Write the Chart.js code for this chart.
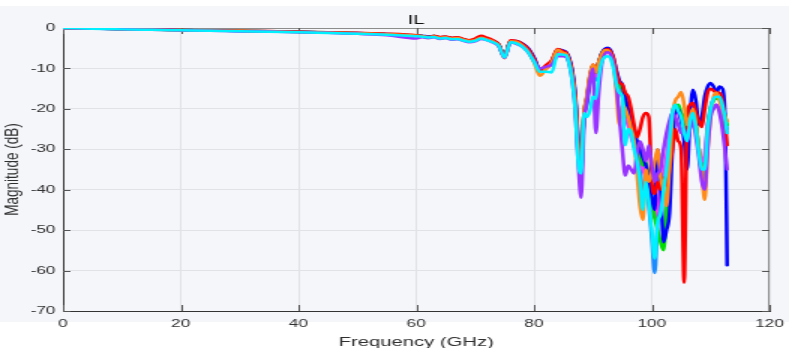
<!DOCTYPE html>
<html>
<head>
<meta charset="utf-8">
<script src="https://cdn.jsdelivr.net/npm/chart.js@4.4.1/dist/chart.umd.min.js"></script>
<style>
html,body{margin:0;padding:0;background:#ffffff;overflow:hidden;width:789px;height:348px;}
#wrap{position:absolute;left:0;top:0;width:526px;height:350px;transform:scaleX(1.5);transform-origin:0 0;}
canvas{display:block;}
</style>
</head>
<body>
<div id="wrap"><canvas id="c" width="526" height="350"></canvas></div>
<script>
// ---- data (frequency in GHz, insertion loss in dB) ----
const freqGHz = [0,5,10,15,20,25,30,35,40,45,50,55,60,
61,62,63,64,65,66,67,68,69,70,71,72,73,74,75,76,77,78,79,80,81,82,83,84,85,
85.5,86,86.5,87,87.5,88,88.5,89,89.5,90,90.5,91,91.5,92,92.5,93,93.5,94,94.5,95,95.5,96,96.5,97,97.5,98,98.5,99,99.5,100,
100.5,101,101.5,102,102.5,103,103.5,104,104.5,105,105.5,106,106.5,107,107.5,108,108.5,109,109.5,110,110.5,111,111.5,112,112.5,112.8];

const xTicks = [0,20,40,60,80,100,120];
const yTicks = [0,-10,-20,-30,-40,-50,-60,-70];

const ilRed = [0,-0.1,-0.25,-0.4,-0.5,-0.6,-0.7,-0.75,-0.9,-1.05,-1.2,-1.4,-1.8,
-2.0,-2.5,-1.9,-2.2,-2.1,-2.4,-2.3,-2.7,-3.0,-2.6,-1.9,-2.4,-3.0,-4.0,-7.0,-3.0,-3.2,-3.9,-5.2,-7.5,-10.5,-9.2,-8.0,-5.2,-5.8,
-6.2,-7.8,-11,-17,-28,-33,-21,-17,-12,-9,-11,-8.5,-6.5,-5.5,-5.2,-5.8,-7.5,-11,-13.5,-14,-16,-17,-20,-24,-27,-25,-22,-21,-22,-38,
-41,-38,-40,-37,-39,-35,-30,-25,-28,-30,-63,-22,-19,-18.5,-21,-23,-24.5,-20,-16,-15,-15.5,-16,-16,-18,-24,-29];

const ilBlue = [0,-0.12,-0.28,-0.38,-0.5,-0.58,-0.72,-0.82,-0.95,-1.1,-1.25,-1.5,-1.85,
-1.9,-2.1,-2.0,-2.3,-2.2,-2.5,-2.4,-2.8,-3.1,-2.9,-2.3,-2.7,-3.1,-4.1,-7.1,-3.2,-3.2,-3.8,-5.0,-7.2,-10.2,-9.5,-8.2,-5.3,-5.6,
-6,-7.5,-10.5,-16,-27,-32,-22,-17.5,-12.5,-9.5,-11,-8.5,-6.2,-5.2,-4.9,-5.5,-7.5,-10.5,-13,-14,-17,-20,-23,-25,-28,-30,-32,-34,-38,-42,
-45,-30,-38,-53,-50,-46,-30,-21,-20,-23,-28,-35,-22,-15.3,-18,-24,-22,-17,-14.5,-13.6,-14.5,-16,-14.5,-15,-25,-58.7];

const ilOrange = [0,-0.15,-0.3,-0.42,-0.52,-0.62,-0.7,-0.82,-0.98,-1.12,-1.3,-1.55,-1.9,
-2.0,-2.2,-2.1,-2.4,-2.3,-2.6,-2.5,-2.9,-3.2,-3.0,-2.4,-2.8,-3.3,-4.3,-7.5,-3.3,-3.4,-4.3,-5.8,-8.5,-11.8,-10.2,-8.6,-5.4,-6.2,
-6.5,-8.5,-12,-18,-30,-34,-21,-16.5,-11.5,-9,-11,-8.5,-6.5,-5.5,-5.5,-6.5,-9,-16,-24,-19,-20,-22,-25,-28,-36,-44,-47.5,-35,-38,-36,
-33,-30,-37,-40,-44,-35,-22,-18,-17,-15.8,-19,-24,-22,-20,-24,-30,-36,-42.5,-30,-22,-17,-16,-18,-20,-22,-23];

const ilGreen = [0,-0.14,-0.29,-0.4,-0.5,-0.6,-0.7,-0.8,-0.94,-1.08,-1.28,-1.52,-1.85,
-1.95,-2.15,-2.0,-2.35,-2.25,-2.55,-2.45,-2.85,-3.1,-2.95,-2.35,-2.7,-3.2,-4.1,-7.0,-3.2,-3.3,-4.0,-5.3,-7.6,-10.6,-9.8,-8.4,-5.5,-5.9,
-6.3,-8,-11,-17,-29,-33,-21,-17,-12,-9.2,-11,-8.5,-6.3,-5.4,-5.2,-5.8,-8,-12,-14.5,-15,-18,-22,-24,-26,-29,-31,-34,-33,-38,-42,
-47,-50,-53,-55,-45,-32,-23,-20,-19,-21,-22,-25,-23,-21,-24,-30,-36,-38,-26,-20,-18,-17.5,-17.5,-19,-22,-24];

const ilMagenta = [0,-0.16,-0.31,-0.42,-0.53,-0.63,-0.74,-0.84,-1.0,-1.15,-1.35,-1.6,-2.0,
-2.1,-2.3,-2.1,-2.5,-2.4,-2.7,-2.6,-3.0,-3.3,-3.1,-2.5,-2.9,-3.4,-4.3,-7.3,-3.4,-3.6,-4.3,-5.6,-7.9,-10.9,-10.2,-8.8,-5.9,-6.2,
-6.4,-8,-11.5,-18,-31,-36,-22,-17.5,-12.5,-9.8,-12,-9,-6.8,-5.6,-5.4,-6,-8.5,-13,-16,-17,-20,-24,-27,-29,-31,-32,-35,-37,-40,-44,
-47,-44,-40,-36,-32,-26,-21,-20,-21,-23,-24,-26,-23,-22,-25,-30,-33,-31,-24,-21,-19.5,-19,-20,-22,-24,-26];

const ilPurple = [0,-0.17,-0.33,-0.45,-0.56,-0.66,-0.78,-0.88,-1.05,-1.2,-1.45,-1.8,-2.6,
-2.3,-2.5,-2.3,-2.7,-2.5,-2.9,-2.8,-3.2,-3.5,-3.3,-2.7,-3.0,-3.6,-4.5,-7.4,-3.6,-3.9,-4.6,-6.0,-8.2,-10.0,-9.6,-9.0,-7.0,-7.0,
-7.2,-9,-13,-20,-33,-42,-24,-18,-13,-10,-26,-16,-9,-6.5,-6,-6.5,-9,-14,-22,-30,-36.5,-34,-35,-36,-31,-28,-30,-33,-29,-34,
-38,-36,-35,-30,-26,-23,-21,-22,-24,-26,-25,-28,-25,-23,-27,-32,-38,-40,-30,-22,-20,-19,-21,-25,-31,-35];

const ilCyan = [0,-0.17,-0.34,-0.46,-0.57,-0.68,-0.8,-0.9,-1.05,-1.22,-1.42,-1.68,-2.05,
-2.15,-2.35,-2.2,-2.6,-2.5,-2.8,-2.7,-3.1,-3.4,-3.2,-2.6,-3.0,-3.5,-4.4,-7.3,-3.5,-3.8,-4.6,-6.0,-8.3,-10.8,-10.8,-11.0,-6.5,-6.6,
-6.8,-9,-13,-20,-33,-36,-21,-22,-20.5,-17,-17.5,-12,-8.5,-7.2,-7,-7.5,-10,-14,-16,-17,-29,-25,-26,-30,-33,-38,-45,-38,-43,-50,
-57,-48,-46,-40,-35,-28,-21,-19,-20.5,-22,-26,-28,-23,-21,-25,-31,-35,-35,-25,-20,-17.5,-17,-17,-19,-23,-26];

const ilSky = [0,-0.15,-0.3,-0.41,-0.52,-0.62,-0.72,-0.82,-0.97,-1.12,-1.32,-1.57,-1.92,
-2.0,-2.2,-2.05,-2.45,-2.3,-2.6,-2.5,-2.9,-3.2,-3.0,-2.45,-2.8,-3.3,-4.2,-7.2,-3.3,-3.5,-4.2,-5.5,-7.8,-10.8,-10.0,-8.8,-5.8,-6.1,
-6.5,-8.5,-12,-18.5,-31,-35,-21.5,-19,-14,-11,-13,-9.5,-7,-6,-5.8,-6.3,-8.5,-12.5,-15,-16,-22,-24,-26,-29,-32,-35,-40,-38,-44,-52,
-60.6,-48,-42,-38,-34,-27,-21,-19.5,-20,-22,-25,-27,-23,-21,-24,-30,-34,-33,-24,-19.5,-17.5,-17,-17.5,-19.5,-23,-25];

// ---- chart ----
const FONT = '"Liberation Sans", Arial, Helvetica, sans-serif';
const TXT = '#303030';

function mk(label, values, color){
  if (values.length !== freqGHz.length) throw new Error(label + ' has ' + values.length + ' values, expected ' + freqGHz.length);
  return {
    label, data: values.map((v,i)=>({x:freqGHz[i], y:v})),
    borderColor: color, backgroundColor: color, borderWidth: 2.5,
    pointRadius: 0, fill: false, cubicInterpolationMode: 'monotone', borderJoinStyle: 'round', borderCapStyle: 'round'
  };
}

// first dataset is drawn on top
const datasets = [
  mk('cyan', ilCyan, '#00f0ff'),
  mk('purple', ilPurple, '#9933ff'),
  mk('orange', ilOrange, '#ff8c1a'),
  mk('red', ilRed, '#ff0000'),
  mk('blue', ilBlue, '#0000ff'),
  mk('green', ilGreen, '#00dd00'),
  mk('magenta', ilMagenta, '#ff33ff'),
  mk('sky', ilSky, '#1a8cff')
];

const deco = {
  id: 'deco',
  beforeDraw(chart){
    const c = chart.ctx;
    c.save();
    c.fillStyle = '#ffffff';
    c.fillRect(0,0,chart.width,chart.height);
    c.fillStyle = '#f5f6fa';
    c.fillRect(0,6,chart.width,316);
    c.restore();
  },
  beforeDatasetsDraw(chart){
    const c = chart.ctx, a = chart.chartArea;
    const xs = chart.scales.x, ys = chart.scales.y;
    c.save();
    c.strokeStyle = '#8c8c8c'; c.lineWidth = 1;
    c.beginPath();
    c.moveTo(a.left, a.top+0.5); c.lineTo(a.right, a.top+0.5);
    c.moveTo(a.right-0.5, a.top); c.lineTo(a.right-0.5, a.bottom);
    c.stroke();
    c.strokeStyle = '#555555'; c.lineWidth = 1;
    c.beginPath();
    xTicks.forEach(v=>{
      const px = Math.round(xs.getPixelForValue(v)) + 0.5;
      c.moveTo(px, a.bottom); c.lineTo(px, a.bottom-6);
      c.moveTo(px, a.top); c.lineTo(px, a.top+6);
    });
    yTicks.forEach(v=>{
      const py = Math.round(ys.getPixelForValue(v)) + 0.5;
      c.moveTo(a.left, py); c.lineTo(a.left+5, py);
      c.moveTo(a.right, py); c.lineTo(a.right-5, py);
    });
    c.stroke();
    c.restore();
  },
  afterDraw(chart){
    const c = chart.ctx, a = chart.chartArea;
    c.save();
    c.fillStyle = '#111111';
    c.font = '13.5px ' + FONT;
    c.textAlign = 'center'; c.textBaseline = 'alphabetic';
    c.fillText('IL', (a.left + a.right)/2, 24);
    c.restore();
  }
};

new Chart(document.getElementById('c'), {
  type: 'line',
  data: { datasets },
  plugins: [deco],
  options: {
    responsive: false, animation: false, devicePixelRatio: 1,
    layout: { padding: { left: 0, right: 13, top: 28, bottom: 0 } },
    plugins: { legend: { display: false }, tooltip: { enabled: false }, title: { display: false } },
    scales: {
      x: {
        type: 'linear', min: 0, max: 120,
        afterBuildTicks(s){ s.ticks = xTicks.map(v=>({value:v})); },
        ticks: { padding: 6, color: TXT, font: { family: FONT, size: 11.5 }, maxRotation: 0, autoSkip: false },
        grid: { color: '#e1e2e6', lineWidth: 1, drawTicks: false },
        border: { display: true, color: '#333333', width: 1 },
        title: { display: true, text: 'Frequency (GHz)', color: TXT, font: { family: FONT, size: 13.5 }, padding: { top: 0, bottom: 0 } },
        afterFit(s){ s.height = 39; s.paddingLeft = 0; s.paddingRight = 0; }
      },
      y: {
        type: 'linear', min: -70, max: 0,
        afterBuildTicks(s){ s.ticks = yTicks.slice().reverse().map(v=>({value:v})); },
        ticks: { padding: 5, color: TXT, font: { family: FONT, size: 11.5 }, autoSkip: false },
        grid: { color: '#e1e2e6', lineWidth: 1, drawTicks: false },
        border: { display: true, color: '#333333', width: 1 },
        title: { display: true, text: 'Magnitude (dB)', color: TXT, font: { family: FONT, size: 13.5 }, padding: { top: 0, bottom: 0 } },
        afterFit(s){ s.width = 42; s.paddingTop = 0; s.paddingBottom = 0; }
      }
    }
  }
});
</script>
</body>
</html>
